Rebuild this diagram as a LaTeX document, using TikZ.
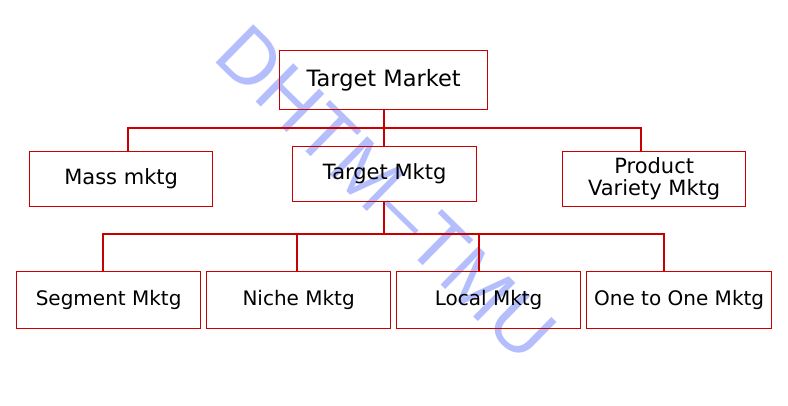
\documentclass[tikz,border=0pt]{standalone}
\usepackage{fontspec}
\setmainfont{DejaVu Sans}
\newfontfamily\wmfont{Liberation Sans}
\definecolor{boxred}{RGB}{200,0,0}
\definecolor{wmblue}{RGB}{180,190,252}
\begin{document}
\begin{tikzpicture}[x=1pt,y=-1pt,
  box/.style={draw=boxred,line width=1.3pt,inner sep=0pt,anchor=north west,align=center},
  link/.style={draw=boxred,line width=1.6pt},
  topf/.style={font=\fontsize{22.5}{24}\selectfont},
  midf/.style={font=\fontsize{21}{22}\selectfont},
  botf/.style={font=\fontsize{20}{22}\selectfont}]
\useasboundingbox (0,0) rectangle (788,406);
\fill[white] (0,0) rectangle (788,406);
% watermark
\node[text=wmblue,rotate=-44.5,font=\wmfont\fontsize{78}{80}\selectfont,inner sep=0pt] (wm) at (386,193) {DHTM–TMU};
% boxes
\node[box,topf,minimum width=208pt,minimum height=59pt] (tm) at (279,50) {Target Market};
\node[box,midf,minimum width=183pt,minimum height=55pt] (mass) at (29,151) {Mass mktg};
\node[box,midf,minimum width=184pt,minimum height=55pt] (tmk) at (292,146) {Target Mktg};
\node[box,midf,minimum width=183pt,minimum height=55pt] (pv) at (562,151) {Product\\Variety Mktg};
\node[box,botf,minimum width=184pt,minimum height=57pt] (seg) at (16,271) {Segment Mktg};
\node[box,botf,minimum width=184pt,minimum height=57pt] (niche) at (206,271) {Niche Mktg};
\node[box,botf,minimum width=184pt,minimum height=57pt] (local) at (396,271) {Local Mktg};
\node[box,botf,minimum width=185pt,minimum height=57pt] (one) at (586,271) {One to One Mktg};
% junctions
\coordinate (j0) at (384,128);
\coordinate (j1) at (128,128);
\coordinate (j2) at (641,128);
\coordinate (k0) at (384,234);
\coordinate (k1) at (103,234);
\coordinate (k2) at (297,234);
\coordinate (k3) at (479,234);
\coordinate (k4) at (664,234);
% connectors
\draw[link] (tm.south -| j0) -- (tmk.north -| j0);
\draw[link] (mass.north -| j1) -- (j1) -- (j2) -- (pv.north -| j2);
\draw[link] (tmk.south -| k0) -- (k0);
\draw[link] (seg.north -| k1) -- (k1) -- (k4) -- (one.north -| k4);
\draw[link] (k2) -- (niche.north -| k2);
\draw[link] (k3) -- (local.north -| k3);
\end{tikzpicture}
\end{document}
